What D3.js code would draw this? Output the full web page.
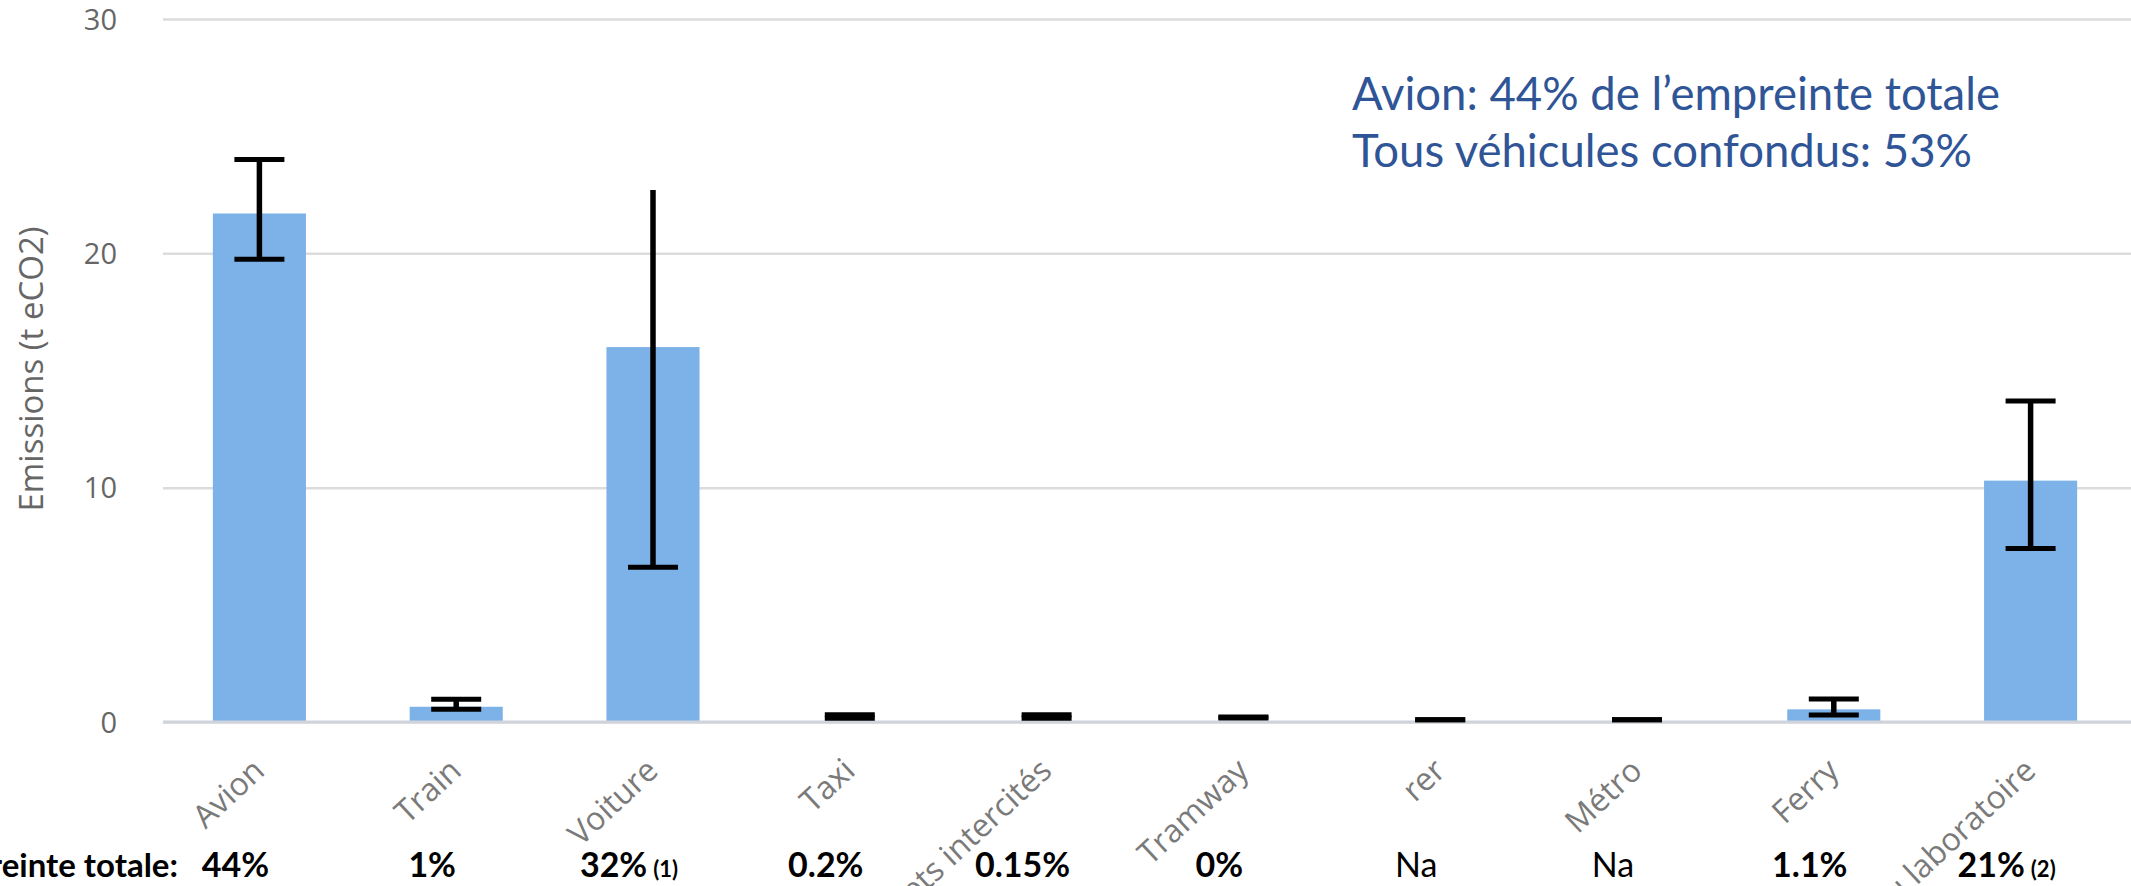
<!DOCTYPE html>
<html>
<head>
<meta charset="utf-8">
<script src="https://cdn.jsdelivr.net/npm/d3@7"></script>
<style>
  html, body { margin: 0; padding: 0; background: #fff; overflow: hidden; }
  svg { display: block; }
</style>
</head>
<body>
<svg id="chart" width="2131" height="886"></svg>
<script>
// ---- data ----
const categories = ["Avion", "Train", "Voiture", "Taxi", "Trajets intercités", "Tramway", "rer", "Métro", "Ferry", "Véhicules du laboratoire"];
const values     = [21.7, 0.65, 16.0, 0.04, 0.04, 0.03, 0.02, 0.02, 0.54, 10.3];
const errLow     = [19.75, 0.54, 6.6, 0.16, 0.16, 0.17, 0.1, 0.1, 0.3, 7.4];
const errHigh    = [24.0, 0.97, 22.7, 0.31, 0.31, 0.21, 0.1, 0.1, 0.98, 13.7];
const upperCap   = [true, true, false, true, true, true, true, true, true, true];
const yTicks     = [0, 10, 20, 30];
const shareLabels = ["44%", "1%", "32%", "0.2%", "0.15%", "0%", "Na", "Na", "1.1%", "21%"];
const shareNotes  = ["", "", "(1)", "", "", "", "", "", "", "(2)"];
const shareBold   = [true, true, true, true, true, true, false, false, true, true];
const rowTitle = "Empreinte totale:";
const yTitle = "Emissions (t eCO2)";
const noteLines = ["Avion: 44% de l\u2019empreinte totale", "Tous véhicules confondus: 53%"];

// ---- layout ----
const svg = d3.select("#chart");
const plotLeft = 161, plotRight = 2129, gridLeft = 163, gridRight = 2131;
const y0 = 722, yTop = 19;

const x = d3.scaleBand().domain(categories).range([plotLeft, plotRight]).padding(0);
const y = d3.scaleLinear().domain([0, 30]).range([y0, yTop]);
const barW = x.bandwidth() * 0.473;
const capW = 50;
const cx = c => x(c) + x.bandwidth() / 2;

const data = categories.map((c, i) => ({c, v: values[i], lo: errLow[i], hi: errHigh[i], cap: upperCap[i]}));

// gridlines + tick labels via axis
const axis = d3.axisLeft(y).tickValues(yTicks).tickSize(-(gridRight - gridLeft)).tickPadding(46).tickFormat(d3.format("d"));
const gAxis = svg.append("g").attr("transform", `translate(${gridLeft},0)`).call(axis);
gAxis.select(".domain").remove();
gAxis.selectAll(".tick line")
  .attr("stroke", "#dcdcdc")
  .attr("stroke-width", 2.5);
gAxis.selectAll(".tick text")
  .attr("fill", "#666")
  .style("font-family", "'Open Sans', sans-serif")
  .style("font-size", "29px")
  .attr("dy", "0.35em");

// y title
svg.append("text")
  .attr("transform", `translate(43,369) rotate(-90)`)
  .attr("text-anchor", "middle")
  .attr("fill", "#666")
  .style("font-family", "'Open Sans', sans-serif")
  .style("font-size", "33px")
  .text(yTitle);

// bars
svg.append("g").selectAll("rect").data(data).join("rect")
  .attr("x", d => cx(d.c) - barW / 2)
  .attr("width", barW)
  .attr("y", d => y(d.v))
  .attr("height", d => y0 - y(d.v))
  .attr("fill", "#7db2e8");

// baseline (category axis) on top of bars
svg.append("line")
  .attr("x1", gridLeft).attr("x2", gridRight)
  .attr("y1", y(0)).attr("y2", y(0))
  .attr("stroke", "#cfd4dc").attr("stroke-width", 3);

// error bars
const gErr = svg.append("g").attr("stroke", "#000").attr("stroke-width", 5).attr("fill", "none");
data.forEach(d => {
  const g = gErr.append("g");
  if (y(d.lo) - y(d.hi) > 0.5) {
    g.append("line").attr("x1", cx(d.c)).attr("x2", cx(d.c)).attr("y1", y(d.hi)).attr("y2", y(d.lo)).attr("stroke-width", 5.5);
  }
  g.append("line").attr("x1", cx(d.c) - capW / 2).attr("x2", cx(d.c) + capW / 2).attr("y1", y(d.lo)).attr("y2", y(d.lo));
  if (d.cap) {
    g.append("line").attr("x1", cx(d.c) - capW / 2).attr("x2", cx(d.c) + capW / 2).attr("y1", y(d.hi)).attr("y2", y(d.hi));
  }
});

// category labels
svg.append("g").selectAll("text").data(categories).join("text")
  .attr("transform", c => `translate(${cx(c) + 7},773) rotate(-43)`)
  .attr("text-anchor", "end")
  .attr("fill", "#7a7a7a")
  .style("font-family", "'Open Sans', sans-serif")
  .style("font-size", "32px")
  .text(c => c);

// share row
const pctFont = "Lato, 'Open Sans', sans-serif";
svg.append("text")
  .attr("x", 178).attr("y", 877)
  .attr("text-anchor", "end")
  .attr("fill", "#000")
  .style("font-family", pctFont)
  .style("font-weight", "bold")
  .style("font-size", "33px")
  .text(rowTitle);

const rows = svg.append("g").selectAll("text").data(categories).join("text")
  .attr("x", c => cx(c) - 24)
  .attr("y", 877)
  .attr("text-anchor", "middle")
  .attr("fill", "#000")
  .style("font-family", pctFont);
rows.append("tspan")
  .style("font-weight", (c, i) => shareBold[i] ? "bold" : "normal")
  .style("font-size", "34px")
  .text((c, i) => shareLabels[i]);
rows.filter((c, i) => shareNotes[i] !== "").append("tspan")
  .style("font-weight", "bold")
  .style("font-size", "22px")
  .attr("dx", 6)
  .text(c => shareNotes[categories.indexOf(c)]);

// annotation
const note = svg.append("g").selectAll("text").data(noteLines).join("text")
  .attr("x", 1352)
  .attr("y", (d, i) => 110 + i * 57)
  .attr("fill", "#2f5597")
  .style("font-family", "Lato, 'Open Sans', sans-serif")
  .style("font-size", "44px")
  .text(d => d);
// fit first line to the width it spans in the reference
const w0 = note.nodes()[0].getComputedTextLength();
note.style("font-size", (44 * 648 / w0) + "px");
</script>
</body>
</html>
